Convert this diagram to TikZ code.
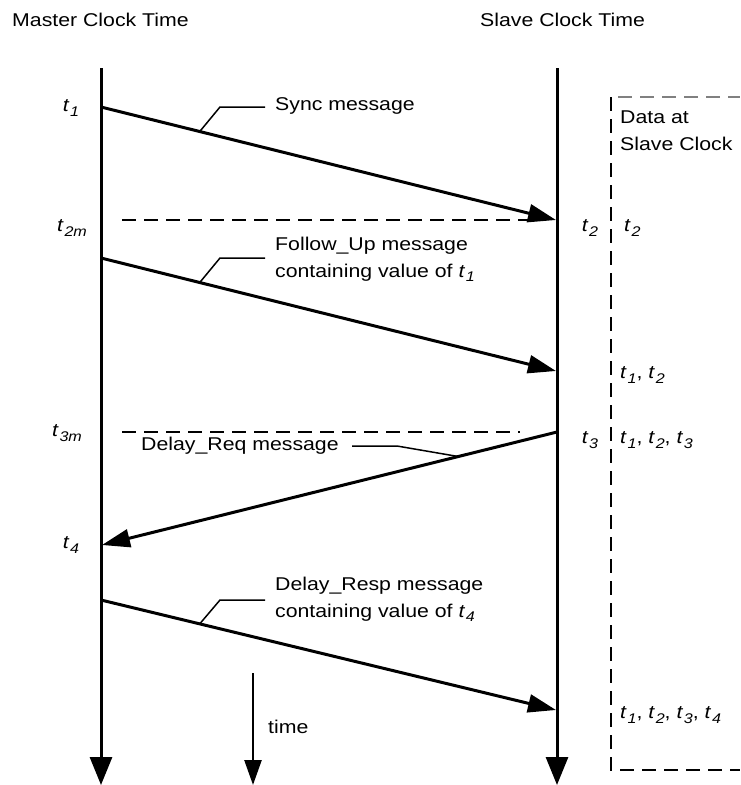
\documentclass[tikz,border=0pt]{standalone}
\usepackage{fontspec}
\setmainfont{Liberation Sans}[FakeStretch=1.15]
\usetikzlibrary{arrows.meta,calc}
\newcommand\tvar[1]{\textit{t}\kern0.04em\raisebox{-0.45ex}{\fontsize{14}{14}\selectfont\textit{#1}}}
\tikzset{
  axisline/.style={line width=3pt,-{Triangle[length=28pt,width=22pt]}},
  timeline/.style={line width=2.5pt,-{Triangle[length=25pt,width=17pt]}},
  msgarrow/.style={line width=3pt,-{Triangle[length=28pt,width=18pt]}},
  leader/.style={line width=1.5pt},
  refline/.style={line width=2pt,dash pattern=on 14pt off 8pt},
  boxline/.style={line width=2pt,dash pattern=on 14pt off 8pt},
  lbl/.style={inner sep=0pt,anchor=west,align=left},
  tlbl/.style={inner sep=0pt}
}
\begin{document}
\begin{tikzpicture}[x=1pt,y=-1pt,font=\fontsize{18.5}{27}\selectfont]
\useasboundingbox (0,0) rectangle (740,785);
% headers
\node[lbl] (mct) at (12,20) {Master Clock Time};
\node[lbl] (sct) at (480,20) {Slave Clock Time};
% time axes
\coordinate (mtop) at (101,68); \coordinate (mbot) at (101,785);
\coordinate (stop) at (557,68); \coordinate (sbot) at (557,785);
\draw[axisline] (mtop) -- (mbot);
\draw[axisline] (stop) -- (sbot);
\coordinate (ttop) at (253,673); \coordinate (tbot) at (253,785);
\draw[timeline] (ttop) -- (tbot);
\node[lbl] (time) at (268,727) {time};
% master labels
\node[tlbl] (t1) at (71,108) {\tvar{1}};
\node[tlbl] (t2m) at (72,228) {\tvar{2m}};
\node[tlbl] (t3m) at (67,433) {\tvar{3m}};
\node[tlbl] (t4) at (71,545) {\tvar{4}};
% slave labels
\node[tlbl] (t2) at (590,228) {\tvar{2}};
\node[tlbl] (t3) at (590,440) {\tvar{3}};
% data at slave clock
\node[lbl] (data) at (620,131) {Data at\\Slave Clock};
\node[lbl] (d1) at (624,228) {\tvar{2}};
\node[lbl] (d2) at (620,375) {\tvar{1}, \tvar{2}};
\node[lbl] (d3) at (620,440) {\tvar{1}, \tvar{2}, \tvar{3}};
\node[lbl] (d4) at (620,715) {\tvar{1}, \tvar{2}, \tvar{3}, \tvar{4}};
\coordinate (b1) at (740,97); \coordinate (b2) at (618,97);
\coordinate (b3) at (611,97); \coordinate (b4) at (611,770); \coordinate (b5) at (740,770);
\draw[boxline,draw=gray] (b2) -- (b1);
\draw[boxline] (b3) -- (b4) -- (b5);
% Sync
\coordinate (m1) at (101,107); \coordinate (s1) at (556,220);
\draw[msgarrow] (m1) -- (s1);
\node[lbl] (sync) at (275,106) {Sync message};
\coordinate (k1) at (220,107); \coordinate (e1) at (265,107);
\draw[leader] ($(m1)!0.217!(s1)$) -- (k1) -- (e1);
\coordinate (r1a) at (122,220); \coordinate (r1b) at (530,220);
\draw[refline] (r1a) -- (r1b);
% Follow_Up
\coordinate (m2) at (101,258); \coordinate (s2) at (556,371);
\draw[msgarrow] (m2) -- (s2);
\node[lbl] (fu) at (275,259) {Follow\_Up message\\containing value of \tvar{1}};
\coordinate (k2) at (220,258); \coordinate (e2) at (265,258);
\draw[leader] ($(m2)!0.217!(s2)$) -- (k2) -- (e2);
% Delay_Req
\coordinate (r2a) at (122,432); \coordinate (r2b) at (520,432);
\draw[refline] (r2a) -- (r2b);
\coordinate (s3) at (557,432); \coordinate (m3) at (102,545);
\draw[msgarrow] (s3) -- (m3);
\node[lbl] (dreq) at (141,446) {Delay\_Req message};
\coordinate (e3) at (352,446); \coordinate (k3) at (397,446);
\draw[leader] (e3) -- (k3) -- ($(s3)!0.217!(m3)$);
% Delay_Resp
\coordinate (m4) at (101,600); \coordinate (s4) at (556,710);
\draw[msgarrow] (m4) -- (s4);
\node[lbl] (dresp) at (275,599) {Delay\_Resp message\\containing value of \tvar{4}};
\coordinate (k4) at (220,600); \coordinate (e4) at (265,600);
\draw[leader] ($(m4)!0.217!(s4)$) -- (k4) -- (e4);
\end{tikzpicture}
\end{document}
